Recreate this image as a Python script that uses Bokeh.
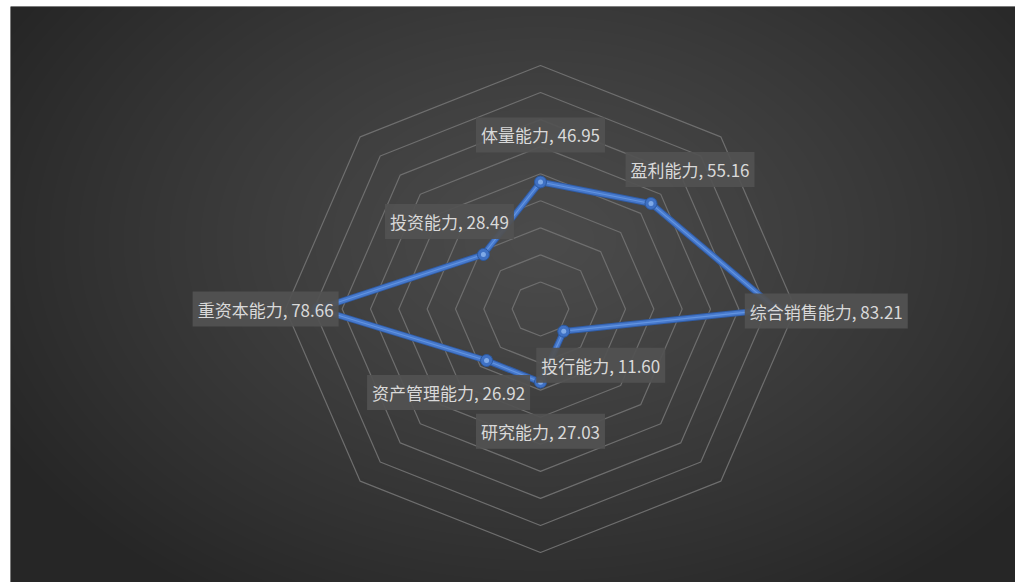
import numpy as np
from bokeh.plotting import figure
from bokeh.models import Range1d, Label
from bokeh.embed import file_html
from bokeh.resources import INLINE

# ---------------- data ----------------
categories = ["体量能力", "盈利能力", "综合销售能力", "投行能力",
              "研究能力", "资产管理能力", "重资本能力", "投资能力"]
values = [46.95, 55.16, 83.21, 11.60, 27.03, 26.92, 78.66, 28.49]
ring_levels = [10, 20, 30, 40, 50, 60, 70, 80, 90]
axis_max = 90

# ---------------- layout (pixel based) ----------------
FX0, FX1 = 10, 1015          # frame left/right in page px
FY0, FY1 = 6, 582            # frame top/bottom in page px
W, H = FX1 - FX0, FY1 - FY0
CX, CY = 540.0, 586 - 308.5  # chart centre (data coords, y up)
RX, RY = 255.0, 243.5        # radius of the outer ring

# label offsets from their point (px, y up)
label_dx = [0, 39, 50, 37, 0, -38, -52, -34]
label_dy = [47, 34, -2, -34, -49, -32, 0, 33]

n = len(categories)
theta = np.deg2rad(90 - 45 * np.arange(n))


def pos(v):
    r = np.asarray(v, dtype=float) / axis_max
    return CX + r * RX * np.cos(theta), CY + r * RY * np.sin(theta)


p = figure(width=FX1, height=FY1, output_backend="svg", toolbar_location=None,
           x_range=Range1d(FX0, FX1), y_range=Range1d(586 - FY1, 586 - FY0),
           min_border_left=FX0, min_border_right=0, min_border_top=FY0, min_border_bottom=0)
p.axis.visible = False
p.grid.visible = False
p.outline_line_color = None
p.border_fill_color = "white"
p.background_fill_color = "#333333"

# ---------------- radial gradient background ----------------
px = np.arange(W) + FX0 + 0.5
py = FY1 - (np.arange(H) + 0.5)       # row 0 is bottom
X, Y = np.meshgrid(px, py)
d = np.sqrt(((X - 540) / 620.0) ** 2 + ((Y - 240) / 430.0) ** 2)
d = np.clip(d, 0, 1)
c_in, c_out = 0x4b, 0x26
g = (c_in - (c_in - c_out) * d ** 1.2).astype(np.uint8)
img = np.empty((H, W), dtype=np.uint32)
view = img.view(dtype=np.uint8).reshape((H, W, 4))
view[..., 0] = g
view[..., 1] = g
view[..., 2] = g
view[..., 3] = 255
p.image_rgba(image=[img], x=FX0, y=586 - FY1, dw=W, dh=H)

# ---------------- rings ----------------
ring_xs, ring_ys = [], []
for lv in ring_levels:
    xs, ys = pos([lv] * n)
    ring_xs.append(list(xs) + [xs[0]])
    ring_ys.append(list(ys) + [ys[0]])
p.multi_line(ring_xs, ring_ys, line_color="#6e6e6e", line_width=1.2)

# ---------------- series ----------------
sx, sy = pos(values)
lx, ly = list(sx) + [sx[0]], list(sy) + [sy[0]]
p.line(lx, ly, line_color="#2f5ca6", line_width=6.5, line_join="round")
p.line(lx, ly, line_color="#4779cc", line_width=4.5, line_join="round")
p.line(lx, ly, line_color="#6294e0", line_width=1.2, line_join="round")
p.scatter(sx, sy, size=12, marker="circle", fill_color="#3f71c4", line_color="#2b589f", line_width=1)
p.scatter(sx, sy, size=5, marker="circle", fill_color="#8fb8f0", line_color=None, fill_alpha=0.8)

# ---------------- labels ----------------
for i in range(n):
    p.add_layout(Label(x=sx[i] + label_dx[i], y=sy[i] + label_dy[i],
                       text=f"{categories[i]}, {values[i]:.2f}",
                       text_align="center", text_baseline="middle",
                       text_font="Noto Sans CJK SC", text_font_size="17px",
                       text_color="#d9d9d9",
                       background_fill_color="#525252", background_fill_alpha=0.93,
                       padding=5))

open("out.html", "w").write(file_html(p, INLINE))
